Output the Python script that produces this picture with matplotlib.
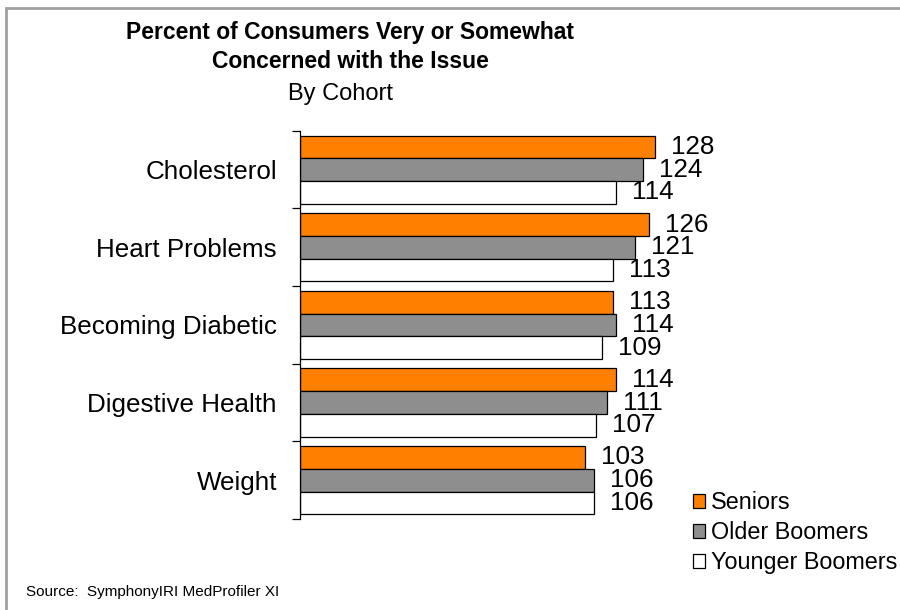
import matplotlib
matplotlib.use("Agg")
import matplotlib.pyplot as plt
from matplotlib.patches import Rectangle
import numpy as np

plt.rcParams['font.family'] = ['Liberation Sans', 'DejaVu Sans']

categories = ["Cholesterol", "Heart Problems", "Becoming Diabetic", "Digestive Health", "Weight"]
series_names = ["Seniors", "Older Boomers", "Younger Boomers"]
seniors = [128, 126, 113, 114, 103]
older_boomers = [124, 121, 114, 111, 106]
younger_boomers = [114, 113, 109, 107, 106]
colors = ["#FF7F00", "#8E8E8E", "#FFFFFF"]

W, H = 900, 610
fig = plt.figure(figsize=(9, 6.1), dpi=100)

# outer frame (partially cut off at right/bottom)
fig.patches.append(Rectangle((6 / W, -0.2), 2.0, 1 - 8 / H + 0.2, transform=fig.transFigure,
                             fill=False, edgecolor="#A0A0A0", linewidth=2))

ax_left, ax_top, ax_bottom = 300, 130.7, 519
ax = fig.add_axes([ax_left / W, 1 - ax_bottom / H, 415.5 / W, (ax_bottom - ax_top) / H])

y = np.arange(len(categories))
h = 0.292
data = [seniors, older_boomers, younger_boomers]
bars = []
for k, (vals, c, name) in enumerate(zip(data, colors, series_names)):
    b = ax.barh(y + (k - 1) * h, vals, height=h, color=c, edgecolor="black", linewidth=0.9, label=name)
    bars.append(b)
    for yi, v in zip(y + (k - 1) * h, vals):
        ax.annotate(str(v), (v, yi), xytext=(11.5, 0), textcoords="offset points",
                    va="center", ha="left", fontsize=18.7, color="black")

ax.set_xlim(0, 150)
ax.set_ylim(len(categories) - 0.5, -0.5)
ax.set_yticks(y)
ax.set_yticklabels(categories, fontsize=18.7)
ax.tick_params(axis="y", which="major", length=0, pad=16.6)
ax.set_yticks(np.arange(len(categories) + 1) - 0.5, minor=True)
ax.tick_params(axis="y", which="minor", length=5.8, width=0.9, direction="out")
ax.xaxis.set_visible(False)
for s in ["top", "right", "bottom"]:
    ax.spines[s].set_visible(False)
ax.spines["left"].set_linewidth(0.9)
ax.patch.set_alpha(0)

# titles
fig.text(350 / W, 1 - 39 / H, "Percent of Consumers Very or Somewhat", ha="center", va="baseline",
         fontsize=16.5, fontweight="bold")
fig.text(350 / W, 1 - 68 / H, "Concerned with the Issue", ha="center", va="baseline",
         fontsize=16.5, fontweight="bold")
fig.text(340 / W, 1 - 100 / H, "By Cohort", ha="center", va="baseline", fontsize=17)

# legend
leg = fig.legend(handles=bars, labels=series_names, loc="upper left",
                 bbox_to_anchor=(693 / W, 1 - 491 / H), bbox_transform=fig.transFigure,
                 frameon=False, fontsize=16.8, handlelength=0.52, handleheight=0.52,
                 handletextpad=0.25, labelspacing=0.31, borderpad=0, borderaxespad=0)

fig.text(26 / W, 1 - 592 / H, "Source:  SymphonyIRI MedProfiler XI", ha="left", va="center", fontsize=11)

fig.savefig("out.png", dpi=100)
